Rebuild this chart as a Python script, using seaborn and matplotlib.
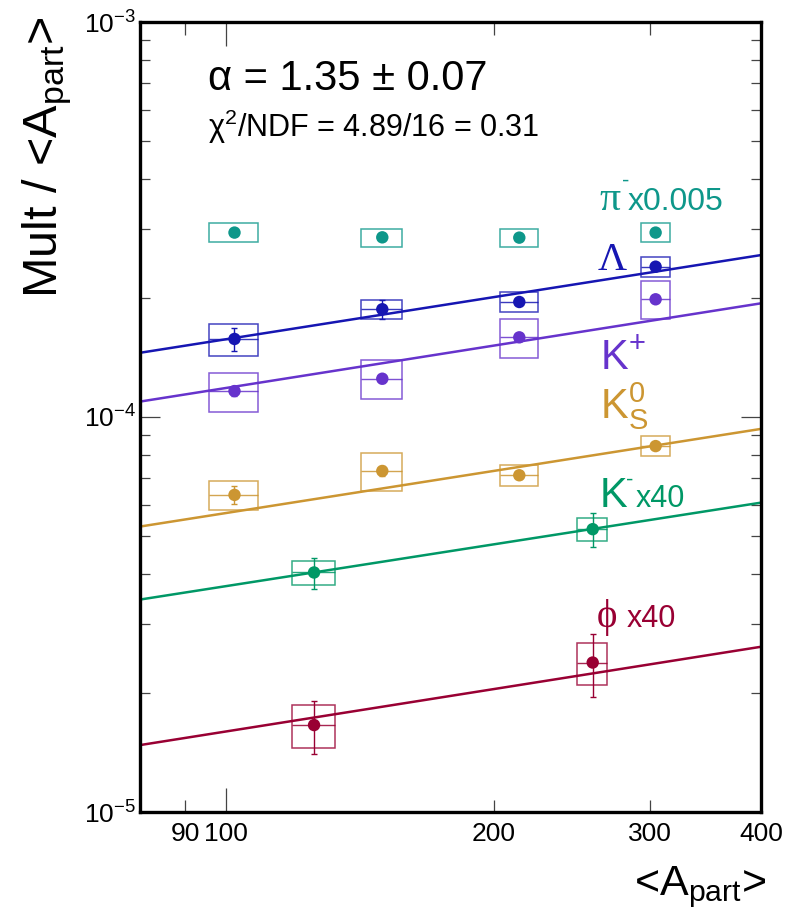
import numpy as np
import pandas as pd
import matplotlib
matplotlib.use("Agg")
import matplotlib.pyplot as plt
import seaborn as sns
from matplotlib.patches import Rectangle
from matplotlib.ticker import NullFormatter

# ---------------- data ----------------
species = ["pi", "lam", "kp", "k0s", "km", "phi"]

x_four = [102.2, 149.9, 213.8, 304.4]
dx_four = [6.5, 8.0, 10.5, 11.5]
x_two = [125.6, 258.6]
dx_two = [7.0, 10.0]

pi_y = [2.93e-4, 2.85e-4, 2.845e-4, 2.93e-4]
pi_sys = [1.6e-5, 1.5e-5, 1.45e-5, 1.6e-5]
pi_stat = [0.0, 0.0, 0.0, 0.0]

lam_y = [1.576e-4, 1.874e-4, 1.955e-4, 2.402e-4]
lam_sys = [1.47e-5, 1.0e-5, 1.15e-5, 1.45e-5]
lam_stat = [1.04e-5, 1.0e-5, 3e-6, 3e-6]

kp_y = [1.163e-4, 1.250e-4, 1.591e-4, 1.986e-4]
kp_sys = [1.31e-5, 1.41e-5, 1.78e-5, 2.2e-5]
kp_stat = [3e-6, 3e-6, 3e-6, 3e-6]

k0s_y = [6.35e-5, 7.30e-5, 7.12e-5, 8.44e-5]
k0s_sys = [5.5e-6, 8.2e-6, 4.2e-6, 4.9e-6]
k0s_stat = [3.2e-6, 2.2e-6, 1.5e-6, 1.5e-6]

km_y = [4.04e-5, 5.20e-5]
km_sys = [2.8e-6, 3.6e-6]
km_stat = [3.65e-6, 5.0e-6]

phi_y = [1.66e-5, 2.39e-5]
phi_sys = [2.04e-6, 2.93e-6]
phi_stat = [2.55e-6, 4.4e-6]

# fit lines (values at the axis ends, x = 80 and 400)
fit_x = [80, 400]
fit_lam = [1.454e-4, 2.570e-4]
fit_kp = [1.094e-4, 1.940e-4]
fit_k0s = [5.28e-5, 9.33e-5]
fit_km = [3.45e-5, 6.07e-5]
fit_phi = [1.477e-5, 2.62e-5]

colors = {
    "pi": "#0e978a",
    "lam": "#1616b2",
    "kp": "#6633cc",
    "k0s": "#cc9632",
    "km": "#009866",
    "phi": "#990033",
}

rows = []
for sp, xs, dxs, ys, sy, st in [
    ("pi", x_four, dx_four, pi_y, pi_sys, pi_stat),
    ("lam", x_four, dx_four, lam_y, lam_sys, lam_stat),
    ("kp", x_four, dx_four, kp_y, kp_sys, kp_stat),
    ("k0s", x_four, dx_four, k0s_y, k0s_sys, k0s_stat),
    ("km", x_two, dx_two, km_y, km_sys, km_stat),
    ("phi", x_two, dx_two, phi_y, phi_sys, phi_stat),
]:
    for a, b, c, d, e in zip(xs, dxs, ys, sy, st):
        rows.append(dict(species=sp, x=a, dx=b, y=c, sys=d, stat=e))
df = pd.DataFrame(rows)

fit_rows = []
for sp, fy in [("lam", fit_lam), ("kp", fit_kp), ("k0s", fit_k0s),
               ("km", fit_km), ("phi", fit_phi)]:
    for a, b in zip(fit_x, fy):
        fit_rows.append(dict(species=sp, x=a, y=b))
fit_df = pd.DataFrame(fit_rows)

# ---------------- style ----------------
sns.set_theme(style="ticks")
plt.rcParams["font.family"] = ["Liberation Sans", "DejaVu Sans"]
plt.rcParams["mathtext.fontset"] = "custom"
plt.rcParams["mathtext.rm"] = "Liberation Sans"
plt.rcParams["mathtext.it"] = "Liberation Sans:italic"
plt.rcParams["mathtext.bf"] = "Liberation Sans:bold"
plt.rcParams["text.color"] = "black"
plt.rcParams["axes.labelcolor"] = "black"
plt.rcParams["xtick.labelcolor"] = "black"
plt.rcParams["ytick.labelcolor"] = "black"

W, H = 788, 916
fig = plt.figure(figsize=(W / 100, H / 100), dpi=100)
fig.patch.set_facecolor("white")
L, R, T, B = 140, 761, 22, 812
ax = fig.add_axes([L / W, 1 - B / H, (R - L) / W, (B - T) / H])
ax.set_facecolor("white")
ax.set_xscale("log")
ax.set_yscale("log")

# fit lines
sns.lineplot(data=fit_df, x="x", y="y", hue="species", palette=colors,
             legend=False, ax=ax, linewidth=1.8, estimator=None, sort=False,
             zorder=2)

# systematic boxes + error bars
for _, r in df.iterrows():
    c = colors[r.species]
    ax.add_patch(Rectangle((r.x - r.dx, r.y - r.sys), 2 * r.dx, 2 * r.sys,
                           fill=False, ec=c, lw=1.1, alpha=0.8, zorder=3))
    if r.species != "pi":
        ax.errorbar([r.x], [r.y], xerr=[r.dx], fmt="none", ecolor=c,
                    elinewidth=1.0, alpha=0.85, zorder=3)
    if r.stat > 0:
        ax.errorbar([r.x], [r.y], yerr=[r.stat], fmt="none", ecolor=c,
                    elinewidth=1.0, capsize=2.5, capthick=1.0, zorder=4)

sns.scatterplot(data=df, x="x", y="y", hue="species", palette=colors,
                legend=False, ax=ax, s=80, edgecolor="none", zorder=5)

ax.set_xlim(80, 400)
ax.set_ylim(1e-5, 1e-3)
ax.set_xlabel("")
ax.set_ylabel("")

# ticks
ax.set_xticks([100], labels=["100"])
ax.set_xticks([90, 200, 300, 400], labels=["90", "200", "300", "400"], minor=True)
ax.set_yticks([1e-5, 1e-4, 1e-3],
              labels=[r"$\mathregular{10^{-5}}$", r"$\mathregular{10^{-4}}$",
                      r"$\mathregular{10^{-3}}$"])
yminor = [k * 10.0 ** e for e in (-5, -4) for k in range(2, 10)]
ax.set_yticks(yminor, minor=True)
ax.yaxis.set_minor_formatter(NullFormatter())

ax.tick_params(which="both", direction="in", top=True, right=True,
               color="#444444", width=0.9, labelcolor="black")
ax.tick_params(axis="x", which="major", length=17, labelsize=19, pad=7)
ax.tick_params(axis="x", which="minor", length=9, labelsize=19, pad=7)
ax.tick_params(axis="y", which="major", length=14.5, labelsize=19, pad=3)
ax.tick_params(axis="y", which="minor", length=7, pad=3)
for s in ax.spines.values():
    s.set_linewidth(2.4)
    s.set_color("black")


def ftext(xp, yp, s, **kw):
    fig.text(xp / W, 1 - yp / H, s, va=kw.pop("va", "baseline"), **kw)


# axis titles
fig.text(47 / W, 1 - 16 / H, r"Mult / <A$_{\mathregular{part}}$>", rotation=90,
         ha="center", va="top", fontsize=35, color="black")
ftext(766, 895, r"<A$_{\mathregular{part}}$>", ha="right", fontsize=31,
      color="black")

# fit info
ftext(208, 90, "α = 1.35 ± 0.07", fontsize=30, color="black")
ftext(208, 137, r"χ$^{\mathregular{2}}$/NDF = 4.89/16 = 0.31", fontsize=22,
      color="black")

# species labels
serif = ["Liberation Serif", "DejaVu Serif"]
ftext(599, 210, "π", family=serif, fontsize=30, color=colors["pi"])
ftext(622, 187, "-", fontsize=16, color=colors["pi"])
ftext(628, 210, "x0.005", fontsize=23, color=colors["pi"])
ftext(598, 270, "Λ", family=serif, fontsize=29, color=colors["lam"])
ftext(600, 370, r"K$^{\mathregular{+}}$", fontsize=30, color=colors["kp"])
ftext(600, 418, r"K$^{\mathregular{0}}_{\mathregular{S}}$", fontsize=30,
      color=colors["k0s"])
ftext(600, 507, "K", fontsize=30, color=colors["km"])
ftext(626, 486, "-", fontsize=16, color=colors["km"])
ftext(636, 507, "x40", fontsize=22, color=colors["km"])
ftext(597, 627, "ϕ", family=serif, fontsize=28, color=colors["phi"])
ftext(627, 627, "x40", fontsize=22, color=colors["phi"])

fig.savefig("out.png", dpi=100, facecolor="white")
